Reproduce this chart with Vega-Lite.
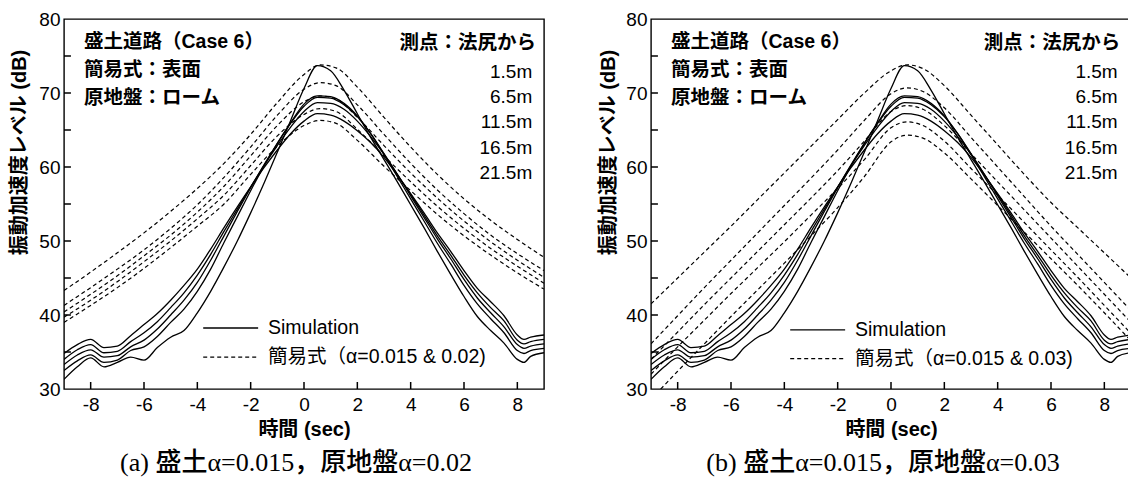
{
  "$schema": "https://vega.github.io/schema/vega-lite/v6.json",
  "background": "white",
  "padding": {"left": 8, "top": 9, "right": 0, "bottom": 0},
  "spacing": 52,
  "config": {
    "locale": {"number": {"decimal": ".", "thousands": ",", "grouping": [3], "currency": ["$", ""], "minus": "-"}},
    "view": {"stroke": "black", "strokeWidth": 1.4},
    "font": "Liberation Sans, Noto Sans CJK JP",
    "axis": {"grid": false, "domain": false, "ticks": false, "tickSize": 0, "labelColor": "black", "labelFontSize": 19, "titleColor": "black", "titleFontSize": 20, "titleFontWeight": "bold"},
    "title": {"font": "Liberation Serif, Noto Sans CJK JP", "fontSize": 26, "fontWeight": 500, "color": "black"}
  },
  "datasets": {
    "one": [{}],
    "xt": [{"t":-8},{"t":-6},{"t":-4},{"t":-2},{"t":0},{"t":2},{"t":4},{"t":6},{"t":8}],
    "yt": [{"L":35},{"L":40},{"L":45},{"L":50},{"L":55},{"L":60},{"L":65},{"L":70},{"L":75}],
    "sim": [
      {"c":"A","t":-9,"L":34.8},{"c":"A","t":-8.5,"L":36.0},{"c":"A","t":-8,"L":36.7},{"c":"A","t":-7.5,"L":35.6},{"c":"A","t":-7,"L":35.8},{"c":"A","t":-6.5,"L":37.2},{"c":"A","t":-6,"L":38.7},{"c":"A","t":-5.5,"L":40.2},{"c":"A","t":-5,"L":42.0},{"c":"A","t":-4.5,"L":44.0},{"c":"A","t":-4,"L":46.2},{"c":"A","t":-3.5,"L":48.9},{"c":"A","t":-3,"L":51.8},{"c":"A","t":-2.5,"L":54.6},{"c":"A","t":-2,"L":57.3},{"c":"A","t":-1.5,"L":59.9},{"c":"A","t":-1,"L":62.3},{"c":"A","t":-0.5,"L":64.5},{"c":"A","t":0,"L":66.2},{"c":"A","t":0.5,"L":67.2},{"c":"A","t":1,"L":67.0},{"c":"A","t":1.5,"L":66.2},{"c":"A","t":2,"L":64.9},{"c":"A","t":2.5,"L":63.3},{"c":"A","t":3,"L":61.3},{"c":"A","t":3.5,"L":58.9},{"c":"A","t":4,"L":56.4},{"c":"A","t":4.5,"L":53.8},{"c":"A","t":5,"L":51.1},{"c":"A","t":5.5,"L":48.6},{"c":"A","t":6,"L":46.0},{"c":"A","t":6.5,"L":43.6},{"c":"A","t":7,"L":41.8},{"c":"A","t":7.5,"L":39.9},{"c":"A","t":8,"L":37.3},{"c":"A","t":8.25,"L":36.7},{"c":"A","t":8.5,"L":37.0},{"c":"A","t":9,"L":37.3},
      {"c":"B","t":-9,"L":34.0},{"c":"B","t":-8.5,"L":35.3},{"c":"B","t":-8,"L":36.0},{"c":"B","t":-7.5,"L":34.9},{"c":"B","t":-7,"L":35.1},{"c":"B","t":-6.5,"L":36.4},{"c":"B","t":-6,"L":37.6},{"c":"B","t":-5.5,"L":39.1},{"c":"B","t":-5,"L":41.0},{"c":"B","t":-4.5,"L":43.0},{"c":"B","t":-4,"L":45.4},{"c":"B","t":-3.5,"L":48.2},{"c":"B","t":-3,"L":51.3},{"c":"B","t":-2.5,"L":54.3},{"c":"B","t":-2,"L":57.3},{"c":"B","t":-1.5,"L":60.2},{"c":"B","t":-1,"L":62.9},{"c":"B","t":-0.5,"L":65.4},{"c":"B","t":0,"L":67.5},{"c":"B","t":0.5,"L":68.7},{"c":"B","t":1,"L":68.6},{"c":"B","t":1.5,"L":67.8},{"c":"B","t":2,"L":66.2},{"c":"B","t":2.5,"L":64.1},{"c":"B","t":3,"L":61.7},{"c":"B","t":3.5,"L":59.0},{"c":"B","t":4,"L":56.3},{"c":"B","t":4.5,"L":53.5},{"c":"B","t":5,"L":50.7},{"c":"B","t":5.5,"L":48.1},{"c":"B","t":6,"L":45.4},{"c":"B","t":6.5,"L":43.0},{"c":"B","t":7,"L":41.0},{"c":"B","t":7.5,"L":39.2},{"c":"B","t":8,"L":36.6},{"c":"B","t":8.25,"L":36.1},{"c":"B","t":8.5,"L":36.4},{"c":"B","t":9,"L":36.7},
      {"c":"C","t":-9,"L":33.3},{"c":"C","t":-8.5,"L":34.6},{"c":"C","t":-8,"L":35.3},{"c":"C","t":-7.5,"L":34.3},{"c":"C","t":-7,"L":34.5},{"c":"C","t":-6.5,"L":35.7},{"c":"C","t":-6,"L":36.6},{"c":"C","t":-5.5,"L":38.1},{"c":"C","t":-5,"L":40.0},{"c":"C","t":-4.5,"L":42.0},{"c":"C","t":-4,"L":44.4},{"c":"C","t":-3.5,"L":47.4},{"c":"C","t":-3,"L":50.7},{"c":"C","t":-2.5,"L":54.0},{"c":"C","t":-2,"L":57.2},{"c":"C","t":-1.5,"L":60.3},{"c":"C","t":-1,"L":63.2},{"c":"C","t":-0.5,"L":65.9},{"c":"C","t":0,"L":68.2},{"c":"C","t":0.5,"L":69.4},{"c":"C","t":1,"L":69.3},{"c":"C","t":1.5,"L":68.4},{"c":"C","t":2,"L":66.8},{"c":"C","t":2.5,"L":64.5},{"c":"C","t":3,"L":61.8},{"c":"C","t":3.5,"L":59.0},{"c":"C","t":4,"L":56.1},{"c":"C","t":4.5,"L":53.2},{"c":"C","t":5,"L":50.3},{"c":"C","t":5.5,"L":47.6},{"c":"C","t":6,"L":44.8},{"c":"C","t":6.5,"L":42.3},{"c":"C","t":7,"L":40.3},{"c":"C","t":7.5,"L":38.4},{"c":"C","t":8,"L":36.0},{"c":"C","t":8.25,"L":35.5},{"c":"C","t":8.5,"L":35.8},{"c":"C","t":9,"L":36.1},
      {"c":"D","t":-9,"L":32.5},{"c":"D","t":-8.5,"L":33.8},{"c":"D","t":-8,"L":34.6},{"c":"D","t":-7.5,"L":33.6},{"c":"D","t":-7,"L":33.9},{"c":"D","t":-6.5,"L":35.2},{"c":"D","t":-6,"L":35.7},{"c":"D","t":-5.5,"L":37.1},{"c":"D","t":-5,"L":39.0},{"c":"D","t":-4.5,"L":40.8},{"c":"D","t":-4,"L":43.2},{"c":"D","t":-3.5,"L":46.2},{"c":"D","t":-3,"L":49.8},{"c":"D","t":-2.5,"L":53.3},{"c":"D","t":-2,"L":56.8},{"c":"D","t":-1.5,"L":60.1},{"c":"D","t":-1,"L":63.2},{"c":"D","t":-0.5,"L":66.0},{"c":"D","t":0,"L":68.5},{"c":"D","t":0.5,"L":69.6},{"c":"D","t":1,"L":69.5},{"c":"D","t":1.5,"L":68.6},{"c":"D","t":2,"L":66.9},{"c":"D","t":2.5,"L":64.5},{"c":"D","t":3,"L":61.7},{"c":"D","t":3.5,"L":58.7},{"c":"D","t":4,"L":55.7},{"c":"D","t":4.5,"L":52.7},{"c":"D","t":5,"L":49.7},{"c":"D","t":5.5,"L":46.9},{"c":"D","t":6,"L":44.0},{"c":"D","t":6.5,"L":41.5},{"c":"D","t":7,"L":39.5},{"c":"D","t":7.5,"L":37.6},{"c":"D","t":8,"L":35.2},{"c":"D","t":8.25,"L":34.8},{"c":"D","t":8.5,"L":35.2},{"c":"D","t":9,"L":35.5},
      {"c":"E","t":-9,"L":31.3},{"c":"E","t":-8.5,"L":33.0},{"c":"E","t":-8,"L":34.2},{"c":"E","t":-7.5,"L":33.0},{"c":"E","t":-7,"L":33.6},{"c":"E","t":-6.5,"L":34.3},{"c":"E","t":-6,"L":33.9},{"c":"E","t":-5.5,"L":35.6},{"c":"E","t":-5,"L":37.0},{"c":"E","t":-4.5,"L":37.9},{"c":"E","t":-4,"L":40.3},{"c":"E","t":-3.5,"L":43.2},{"c":"E","t":-3,"L":46.5},{"c":"E","t":-2.5,"L":50.0},{"c":"E","t":-2,"L":53.8},{"c":"E","t":-1.5,"L":57.8},{"c":"E","t":-1,"L":62.0},{"c":"E","t":-0.5,"L":66.3},{"c":"E","t":0,"L":70.6},{"c":"E","t":0.5,"L":73.7},{"c":"E","t":1,"L":73.0},{"c":"E","t":1.5,"L":70.4},{"c":"E","t":2,"L":67.2},{"c":"E","t":2.5,"L":64.0},{"c":"E","t":3,"L":61.0},{"c":"E","t":3.5,"L":58.0},{"c":"E","t":4,"L":54.9},{"c":"E","t":4.5,"L":51.8},{"c":"E","t":5,"L":48.6},{"c":"E","t":5.5,"L":45.5},{"c":"E","t":6,"L":42.5},{"c":"E","t":6.5,"L":39.8},{"c":"E","t":7,"L":37.9},{"c":"E","t":7.5,"L":36.2},{"c":"E","t":8,"L":34.0},{"c":"E","t":8.25,"L":33.6},{"c":"E","t":8.5,"L":34.4},{"c":"E","t":9,"L":34.9}
    ],
    "dashA": [
      {"c":"1","t":-9,"L":43.3},{"c":"1","t":-8,"L":45.8},{"c":"1","t":-7,"L":48.4},{"c":"1","t":-6,"L":51.1},{"c":"1","t":-5,"L":54.0},{"c":"1","t":-4,"L":57.1},{"c":"1","t":-3,"L":60.5},{"c":"1","t":-2,"L":64.4},{"c":"1","t":-1,"L":68.7},{"c":"1","t":0,"L":72.5},{"c":"1","t":0.6,"L":73.8},{"c":"1","t":1.2,"L":73.4},{"c":"1","t":2,"L":70.8},{"c":"1","t":3,"L":66.7},{"c":"1","t":4,"L":62.7},{"c":"1","t":5,"L":59.0},{"c":"1","t":6,"L":55.7},{"c":"1","t":7,"L":52.8},{"c":"1","t":8,"L":50.2},{"c":"1","t":9,"L":47.8},
      {"c":"2","t":-9,"L":41.3},{"c":"2","t":-8,"L":43.7},{"c":"2","t":-7,"L":46.2},{"c":"2","t":-6,"L":48.8},{"c":"2","t":-5,"L":51.7},{"c":"2","t":-4,"L":54.9},{"c":"2","t":-3,"L":58.6},{"c":"2","t":-2,"L":62.7},{"c":"2","t":-1,"L":67.0},{"c":"2","t":0,"L":70.5},{"c":"2","t":0.6,"L":71.4},{"c":"2","t":1.2,"L":71.0},{"c":"2","t":2,"L":68.4},{"c":"2","t":3,"L":64.4},{"c":"2","t":4,"L":60.5},{"c":"2","t":5,"L":56.9},{"c":"2","t":6,"L":53.7},{"c":"2","t":7,"L":50.8},{"c":"2","t":8,"L":48.3},{"c":"2","t":9,"L":46.0},
      {"c":"3","t":-9,"L":40.4},{"c":"3","t":-8,"L":42.8},{"c":"3","t":-7,"L":45.3},{"c":"3","t":-6,"L":48.0},{"c":"3","t":-5,"L":50.8},{"c":"3","t":-4,"L":53.9},{"c":"3","t":-3,"L":57.4},{"c":"3","t":-2,"L":61.5},{"c":"3","t":-1,"L":65.6},{"c":"3","t":0,"L":68.8},{"c":"3","t":0.6,"L":69.6},{"c":"3","t":1.2,"L":69.2},{"c":"3","t":2,"L":66.7},{"c":"3","t":3,"L":62.9},{"c":"3","t":4,"L":59.2},{"c":"3","t":5,"L":55.8},{"c":"3","t":6,"L":52.7},{"c":"3","t":7,"L":49.9},{"c":"3","t":8,"L":47.4},{"c":"3","t":9,"L":45.1},
      {"c":"4","t":-9,"L":39.7},{"c":"4","t":-8,"L":42.0},{"c":"4","t":-7,"L":44.5},{"c":"4","t":-6,"L":47.2},{"c":"4","t":-5,"L":50.0},{"c":"4","t":-4,"L":53.0},{"c":"4","t":-3,"L":56.2},{"c":"4","t":-2,"L":60.2},{"c":"4","t":-1,"L":64.2},{"c":"4","t":0,"L":67.1},{"c":"4","t":0.6,"L":67.9},{"c":"4","t":1.2,"L":67.5},{"c":"4","t":2,"L":65.1},{"c":"4","t":3,"L":61.5},{"c":"4","t":4,"L":58.0},{"c":"4","t":5,"L":54.7},{"c":"4","t":6,"L":51.7},{"c":"4","t":7,"L":49.0},{"c":"4","t":8,"L":46.6},{"c":"4","t":9,"L":44.3},
      {"c":"5","t":-9,"L":39.0},{"c":"5","t":-8,"L":41.3},{"c":"5","t":-7,"L":43.7},{"c":"5","t":-6,"L":46.3},{"c":"5","t":-5,"L":49.1},{"c":"5","t":-4,"L":52.0},{"c":"5","t":-3,"L":55.0},{"c":"5","t":-2,"L":59.0},{"c":"5","t":-1,"L":62.8},{"c":"5","t":0,"L":65.6},{"c":"5","t":0.6,"L":66.3},{"c":"5","t":1.2,"L":65.9},{"c":"5","t":2,"L":63.6},{"c":"5","t":3,"L":60.1},{"c":"5","t":4,"L":56.8},{"c":"5","t":5,"L":53.6},{"c":"5","t":6,"L":50.7},{"c":"5","t":7,"L":48.1},{"c":"5","t":8,"L":45.7},{"c":"5","t":9,"L":43.5}
    ],
    "dashB": [
      {"c":"1","t":-9,"L":41.5},{"c":"1","t":-8,"L":45.0},{"c":"1","t":-7,"L":48.5},{"c":"1","t":-6,"L":52.0},{"c":"1","t":-5,"L":55.6},{"c":"1","t":-4,"L":59.2},{"c":"1","t":-3,"L":62.8},{"c":"1","t":-2,"L":66.4},{"c":"1","t":-1,"L":70.0},{"c":"1","t":0,"L":73.0},{"c":"1","t":0.6,"L":73.8},{"c":"1","t":1.2,"L":73.3},{"c":"1","t":2,"L":71.0},{"c":"1","t":3,"L":67.0},{"c":"1","t":4,"L":63.0},{"c":"1","t":5,"L":59.0},{"c":"1","t":6,"L":55.2},{"c":"1","t":7,"L":51.8},{"c":"1","t":8,"L":48.4},{"c":"1","t":9,"L":45.0},
      {"c":"2","t":-9,"L":36.1},{"c":"2","t":-8,"L":39.9},{"c":"2","t":-7,"L":43.7},{"c":"2","t":-6,"L":47.4},{"c":"2","t":-5,"L":51.1},{"c":"2","t":-4,"L":54.8},{"c":"2","t":-3,"L":58.5},{"c":"2","t":-2,"L":62.3},{"c":"2","t":-1,"L":66.3},{"c":"2","t":0,"L":69.9},{"c":"2","t":0.6,"L":70.7},{"c":"2","t":1.2,"L":70.2},{"c":"2","t":2,"L":68.0},{"c":"2","t":3,"L":64.0},{"c":"2","t":4,"L":60.0},{"c":"2","t":5,"L":56.0},{"c":"2","t":6,"L":52.0},{"c":"2","t":7,"L":48.2},{"c":"2","t":8,"L":44.4},{"c":"2","t":9,"L":40.6},
      {"c":"3","t":-9,"L":34.0},{"c":"3","t":-8,"L":37.7},{"c":"3","t":-7,"L":41.4},{"c":"3","t":-6,"L":45.0},{"c":"3","t":-5,"L":48.6},{"c":"3","t":-4,"L":52.2},{"c":"3","t":-3,"L":55.8},{"c":"3","t":-2,"L":59.5},{"c":"3","t":-1,"L":63.5},{"c":"3","t":0,"L":67.5},{"c":"3","t":0.6,"L":68.3},{"c":"3","t":1.2,"L":67.8},{"c":"3","t":2,"L":65.6},{"c":"3","t":3,"L":61.8},{"c":"3","t":4,"L":58.0},{"c":"3","t":5,"L":54.2},{"c":"3","t":6,"L":50.4},{"c":"3","t":7,"L":46.6},{"c":"3","t":8,"L":42.8},{"c":"3","t":9,"L":39.0},
      {"c":"4","t":-9,"L":32.0},{"c":"4","t":-8,"L":35.7},{"c":"4","t":-7,"L":39.3},{"c":"4","t":-6,"L":42.9},{"c":"4","t":-5,"L":46.4},{"c":"4","t":-4,"L":49.9},{"c":"4","t":-3,"L":53.5},{"c":"4","t":-2,"L":57.1},{"c":"4","t":-1,"L":61.0},{"c":"4","t":0,"L":65.3},{"c":"4","t":0.6,"L":66.1},{"c":"4","t":1.2,"L":65.6},{"c":"4","t":2,"L":63.5},{"c":"4","t":3,"L":59.8},{"c":"4","t":4,"L":56.2},{"c":"4","t":5,"L":52.5},{"c":"4","t":6,"L":48.8},{"c":"4","t":7,"L":45.1},{"c":"4","t":8,"L":41.3},{"c":"4","t":9,"L":37.5},
      {"c":"5","t":-9,"L":28.6},{"c":"5","t":-8,"L":32.4},{"c":"5","t":-7,"L":36.1},{"c":"5","t":-6,"L":39.8},{"c":"5","t":-5,"L":43.4},{"c":"5","t":-4,"L":47.0},{"c":"5","t":-3,"L":50.7},{"c":"5","t":-2,"L":54.5},{"c":"5","t":-1,"L":58.7},{"c":"5","t":0,"L":63.4},{"c":"5","t":0.6,"L":64.3},{"c":"5","t":1.2,"L":63.9},{"c":"5","t":2,"L":61.9},{"c":"5","t":3,"L":58.4},{"c":"5","t":4,"L":54.8},{"c":"5","t":5,"L":51.2},{"c":"5","t":6,"L":47.6},{"c":"5","t":7,"L":44.0},{"c":"5","t":8,"L":40.3},{"c":"5","t":9,"L":36.5}
    ]
  },
  "hconcat": [
    {
      "width": 480, "height": 370,
      "title": {"text": "(a) 盛土α=0.015，原地盤α=0.02", "orient": "bottom", "anchor": "middle", "offset": 11, "dx": -8},
      "layer": [
        {"data": {"name": "sim"}, "mark": {"type": "line", "interpolate": "monotone", "color": "black", "strokeWidth": 1.3, "clip": true},
         "encoding": {
           "x": {"field": "t", "type": "quantitative", "scale": {"domain": [-9, 9], "nice": false, "zero": false},
                 "axis": {"values": [-8,-6,-4,-2,0,2,4,6,8], "ticks": false, "tickSize": 0, "domain": false, "labelPadding": 6, "title": "時間 (sec)", "titlePadding": 5}},
           "y": {"field": "L", "type": "quantitative", "scale": {"domain": [30, 80], "nice": false, "zero": false},
                 "axis": {"values": [30,40,50,60,70,80], "ticks": false, "tickSize": 0, "domain": false, "labelPadding": 4, "title": "振動加速度レベル (dB)", "titleX": -45, "titleY": 133, "titleBaseline": "middle", "titleAlign": "center", "titleAngle": -90}},
           "detail": {"field": "c"}}},
        {"data": {"name": "dashA"}, "mark": {"type": "line", "interpolate": "monotone", "color": "black", "strokeWidth": 1.2, "strokeDash": [4, 3], "clip": true},
         "encoding": {"x": {"field": "t", "type": "quantitative"}, "y": {"field": "L", "type": "quantitative"}, "detail": {"field": "c"}}},
        {"data": {"name": "xt"}, "mark": {"type": "rule", "color": "black", "strokeWidth": 1.5},
         "encoding": {"x": {"field": "t", "type": "quantitative"}, "y": {"datum": 30, "type": "quantitative"}, "y2": {"datum": 30.95}}},
        {"data": {"name": "yt"}, "mark": {"type": "rule", "color": "black", "strokeWidth": 1.5},
         "encoding": {"y": {"field": "L", "type": "quantitative"}, "x": {"datum": -9, "type": "quantitative"}, "x2": {"datum": -8.74}}},
        {"data": {"name": "one"}, "mark": {"type": "rule", "color": "black", "strokeWidth": 1.3},
         "encoding": {"x": {"datum": -3.78, "type": "quantitative"}, "x2": {"datum": -1.72}, "y": {"datum": 38.24, "type": "quantitative"}}},
        {"data": {"name": "one"}, "mark": {"type": "rule", "color": "black", "strokeWidth": 1.2, "strokeDash": [4, 3]},
         "encoding": {"x": {"datum": -3.78, "type": "quantitative"}, "x2": {"datum": -1.72}, "y": {"datum": 34.32, "type": "quantitative"}}},
        {"data": {"name": "one"}, "mark": {"type": "text", "align": "left", "baseline": "middle", "fontSize": 19.5, "color": "black"},
         "encoding": {"x": {"datum": -1.35, "type": "quantitative"}, "y": {"datum": 38.24, "type": "quantitative"}, "text": {"value": "Simulation"}}},
        {"data": {"name": "one"}, "mark": {"type": "text", "align": "left", "baseline": "middle", "fontSize": 19.5, "color": "black"},
         "encoding": {"x": {"datum": -1.35, "type": "quantitative"}, "y": {"datum": 34.32, "type": "quantitative"}, "text": {"value": "簡易式（α=0.015 & 0.02)"}}},
        {"data": {"name": "one"}, "mark": {"type": "text", "align": "left", "baseline": "top", "fontSize": 19.5, "fontWeight": "bold", "lineHeight": 28, "color": "black"},
         "encoding": {"x": {"datum": -8.25, "type": "quantitative"}, "y": {"datum": 78.1, "type": "quantitative"}, "text": {"value": ["盛土道路（Case 6）", "簡易式：表面", "原地盤：ローム"]}}},
        {"data": {"name": "one"}, "mark": {"type": "text", "align": "right", "baseline": "middle", "fontSize": 19.5, "fontWeight": "bold", "color": "black"},
         "encoding": {"x": {"datum": 8.7, "type": "quantitative"}, "y": {"datum": 76.76, "type": "quantitative"}, "text": {"value": "測点：法尻から"}}},
        {"data": {"name": "one"}, "mark": {"type": "text", "align": "right", "baseline": "top", "fontSize": 19, "lineHeight": 25.3, "color": "black"},
         "encoding": {"x": {"datum": 8.56, "type": "quantitative"}, "y": {"datum": 74.1, "type": "quantitative"}, "text": {"value": ["1.5m", "6.5m", "11.5m", "16.5m", "21.5m"]}}}
      ]
    },
    {
      "width": 480, "height": 370,
      "title": {"text": "(b) 盛土α=0.015，原地盤α=0.03", "orient": "bottom", "anchor": "middle", "offset": 11, "dx": -8},
      "layer": [
        {"data": {"name": "sim"}, "mark": {"type": "line", "interpolate": "monotone", "color": "black", "strokeWidth": 1.3, "clip": true},
         "encoding": {
           "x": {"field": "t", "type": "quantitative", "scale": {"domain": [-9, 9], "nice": false, "zero": false},
                 "axis": {"values": [-8,-6,-4,-2,0,2,4,6,8], "ticks": false, "tickSize": 0, "domain": false, "labelPadding": 6, "title": "時間 (sec)", "titlePadding": 5}},
           "y": {"field": "L", "type": "quantitative", "scale": {"domain": [30, 80], "nice": false, "zero": false},
                 "axis": {"values": [30,40,50,60,70,80], "ticks": false, "tickSize": 0, "domain": false, "labelPadding": 4, "title": "振動加速度レベル (dB)", "titleX": -43, "titleY": 133, "titleBaseline": "middle", "titleAlign": "center", "titleAngle": -90}},
           "detail": {"field": "c"}}},
        {"data": {"name": "dashB"}, "mark": {"type": "line", "interpolate": "monotone", "color": "black", "strokeWidth": 1.2, "strokeDash": [4, 3], "clip": true},
         "encoding": {"x": {"field": "t", "type": "quantitative"}, "y": {"field": "L", "type": "quantitative"}, "detail": {"field": "c"}}},
        {"data": {"name": "xt"}, "mark": {"type": "rule", "color": "black", "strokeWidth": 1.5},
         "encoding": {"x": {"field": "t", "type": "quantitative"}, "y": {"datum": 30, "type": "quantitative"}, "y2": {"datum": 30.95}}},
        {"data": {"name": "yt"}, "mark": {"type": "rule", "color": "black", "strokeWidth": 1.5},
         "encoding": {"y": {"field": "L", "type": "quantitative"}, "x": {"datum": -9, "type": "quantitative"}, "x2": {"datum": -8.74}}},
        {"data": {"name": "one"}, "mark": {"type": "rule", "color": "black", "strokeWidth": 1.3},
         "encoding": {"x": {"datum": -3.78, "type": "quantitative"}, "x2": {"datum": -1.72}, "y": {"datum": 38.0, "type": "quantitative"}}},
        {"data": {"name": "one"}, "mark": {"type": "rule", "color": "black", "strokeWidth": 1.2, "strokeDash": [4, 3]},
         "encoding": {"x": {"datum": -3.78, "type": "quantitative"}, "x2": {"datum": -1.72}, "y": {"datum": 34.1, "type": "quantitative"}}},
        {"data": {"name": "one"}, "mark": {"type": "text", "align": "left", "baseline": "middle", "fontSize": 19.5, "color": "black"},
         "encoding": {"x": {"datum": -1.35, "type": "quantitative"}, "y": {"datum": 38.0, "type": "quantitative"}, "text": {"value": "Simulation"}}},
        {"data": {"name": "one"}, "mark": {"type": "text", "align": "left", "baseline": "middle", "fontSize": 19.5, "color": "black"},
         "encoding": {"x": {"datum": -1.35, "type": "quantitative"}, "y": {"datum": 34.1, "type": "quantitative"}, "text": {"value": "簡易式（α=0.015 & 0.03)"}}},
        {"data": {"name": "one"}, "mark": {"type": "text", "align": "left", "baseline": "top", "fontSize": 19.5, "fontWeight": "bold", "lineHeight": 28, "color": "black"},
         "encoding": {"x": {"datum": -8.25, "type": "quantitative"}, "y": {"datum": 78.1, "type": "quantitative"}, "text": {"value": ["盛土道路（Case 6）", "簡易式：表面", "原地盤：ローム"]}}},
        {"data": {"name": "one"}, "mark": {"type": "text", "align": "right", "baseline": "middle", "fontSize": 19.5, "fontWeight": "bold", "color": "black"},
         "encoding": {"x": {"datum": 8.6, "type": "quantitative"}, "y": {"datum": 76.76, "type": "quantitative"}, "text": {"value": "測点：法尻から"}}},
        {"data": {"name": "one"}, "mark": {"type": "text", "align": "right", "baseline": "top", "fontSize": 19, "lineHeight": 25.3, "color": "black"},
         "encoding": {"x": {"datum": 8.5, "type": "quantitative"}, "y": {"datum": 74.1, "type": "quantitative"}, "text": {"value": ["1.5m", "6.5m", "11.5m", "16.5m", "21.5m"]}}}
      ]
    }
  ]
}
